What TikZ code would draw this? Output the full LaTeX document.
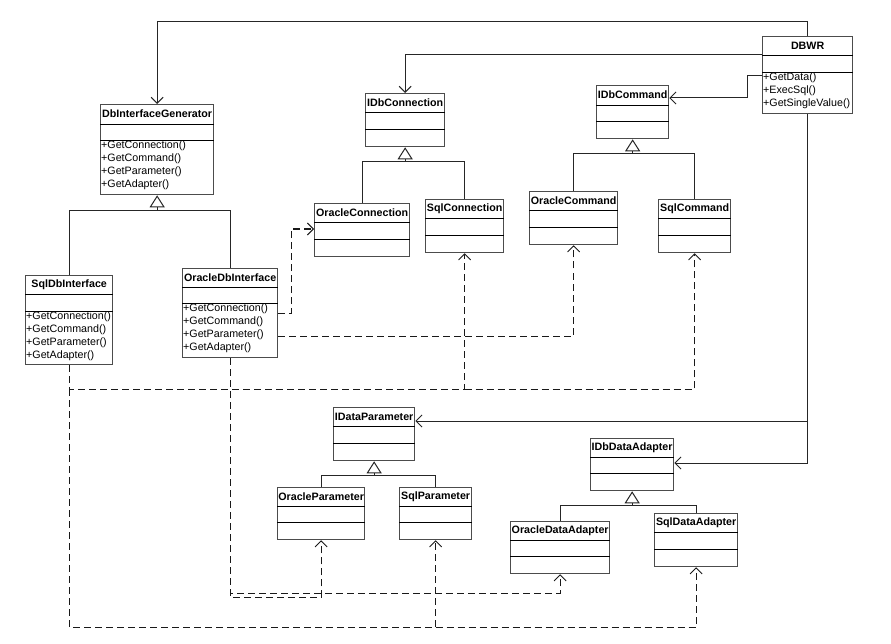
\documentclass[tikz,border=0pt]{standalone}
\usepackage{fontspec}
\setmainfont{Liberation Sans}
\usetikzlibrary{arrows.meta,calc}
\tikzset{
  clsbox/.style={draw=black!70, line width=1.3pt, inner sep=0pt, fill=white},
  sepline/.style={draw=black, line width=0.8pt},
  titletext/.style={font=\fontsize{10.7}{13}\selectfont\bfseries, inner sep=0pt},
  methtext/.style={font=\fontsize{10.7}{13}\selectfont, inner sep=1pt, align=left},
  conn/.style={draw=black!85, line width=1pt},
  assoc/.style={conn, -{Straight Barb[length=6pt,width=12pt]}},
  dep/.style={draw=black!90, line width=1.3pt, dash pattern=on 7pt off 4pt, -{Straight Barb[length=6pt,width=12pt,line width=0.9pt]}},
  inherit/.style={conn, -{Triangle[open,length=12pt,width=15pt,fill=white]}},
}
% #1 name, #2 x, #3 y, #4 width, #5 height, #6 first separator, #7 second separator, #8 title
\newcommand\umlcls[8]{%
  \node[clsbox, minimum width=#4pt, minimum height=#5pt, anchor=north west] (#1) at (#2,#3) {};
  \draw[sepline] ($(#1.north west)+(0,#6)$) -- ($(#1.north east)+(0,#6)$);
  \draw[sepline] ($(#1.north west)+(0,#7)$) -- ($(#1.north east)+(0,#7)$);
  \node[titletext] (#1-t) at ($(#1.north)+(0,#6/2)$) {#8};
}
\begin{document}
\begin{tikzpicture}[x=1pt,y=-1pt]
\useasboundingbox (0,0) rectangle (891,644);
\fill[white] (0,0) rectangle (891,644);

% classes
\umlcls{dbig}{100}{104}{113}{90}{20}{36}{DbInterfaceGenerator}
\umlcls{dbwr}{762}{36}{90}{77}{19}{36}{DBWR}
\umlcls{idbconn}{365}{93}{79}{53}{19}{36}{IDbConnection}
\umlcls{idbcmd}{596}{85}{72}{53}{20}{36}{IDbCommand}
\umlcls{oraconn}{314}{203}{95}{53}{19}{36}{OracleConnection}
\umlcls{sqlconn}{425}{199}{78}{53}{19}{36}{SqlConnection}
\umlcls{oracmd}{529}{191}{88}{53}{19}{36}{OracleCommand}
\umlcls{sqlcmd}{658}{199}{72}{53}{19}{36}{SqlCommand}
\umlcls{sqldbi}{25}{275}{87}{89}{19}{36}{SqlDbInterface}
\umlcls{oradbi}{182}{268}{95}{89}{19}{35}{OracleDbInterface}
\umlcls{idataparam}{333}{407}{81}{53}{19}{36}{IDataParameter}
\umlcls{oraparam}{277}{487}{87}{52}{19}{35}{OracleParameter}
\umlcls{sqlparam}{399}{487}{72}{52}{19}{35}{SqlParameter}
\umlcls{idbadapter}{590}{438}{83}{52}{19}{35}{IDbDataAdapter}
\umlcls{oradapter}{510}{521}{99}{52}{19}{35}{OracleDataAdapter}
\umlcls{sqladapter}{654}{513}{83}{53}{19}{36}{SqlDataAdapter}

% methods
\node[methtext, anchor=north west] (dbig-m) at ($(dbig.north west)+(0,36)$)
  {+GetConnection()\\+GetCommand()\\+GetParameter()\\+GetAdapter()};
\node[methtext, anchor=north west] (dbwr-m) at ($(dbwr.north west)+(0,36)$)
  {+GetData()\\+ExecSql()\\+GetSingleValue()};
\node[methtext, anchor=north west] (sqldbi-m) at ($(sqldbi.north west)+(0,36)$)
  {+GetConnection()\\+GetCommand()\\+GetParameter()\\+GetAdapter()};
\node[methtext, anchor=north west] (oradbi-m) at ($(oradbi.north west)+(0,35)$)
  {+GetConnection()\\+GetCommand()\\+GetParameter()\\+GetAdapter()};

% associations from DBWR
\draw[assoc] (dbwr.north) -- ++(0,-14) -| (dbig.north);
\draw[assoc] ($(dbwr.north west)+(0,19)$) -| (idbconn.north);
\draw[assoc] (dbwr.west) -- ++(-15,0) |- ($(idbcmd.north east)+(0,13)$);
\draw[assoc] (dbwr.south) |- ($(idataparam.north east)+(0,14)$);
\draw[assoc] (dbwr.south) |- ($(idbadapter.north east)+(0,25)$);

% generalisations
\coordinate (j1) at ($(dbig.south)+(0,15)$);
\draw[conn] (sqldbi.north) |- (j1) -| (oradbi.north);
\draw[inherit] (j1) -- (dbig.south);

\coordinate (j2) at ($(idbconn.south)+(0,14)$);
\draw[conn] (oraconn.north) |- (j2) -| (sqlconn.north);
\draw[inherit] (j2) -- (idbconn.south);

\coordinate (j3) at ($(idbcmd.south)+(0,14)$);
\draw[conn] (oracmd.north) |- (j3) -| (sqlcmd.north);
\draw[inherit] (j3) -- (idbcmd.south);

\coordinate (j4) at ($(idataparam.south)+(0,14)$);
\draw[conn] (oraparam.north) |- (j4) -| (sqlparam.north);
\draw[inherit] (j4) -- (idataparam.south);

\coordinate (j5) at ($(idbadapter.south)+(0,14)$);
\draw[conn] (oradapter.north) |- (j5) -| (sqladapter.north);
\draw[inherit] (j5) -- (idbadapter.south);

% dependencies of OracleDbInterface
\draw[dep] (oradbi.east) -- ++(13,0) |- ($(oraconn.north west)+(0,26)$);
\draw[dep] ($(oradbi.east)+(0,23)$) -| (oracmd.south);
\coordinate (busC) at ($(oradbi.south)+(0,235)$);
\draw[dep] (oradbi.south) -- (busC) -| (oradapter.south);
\draw[dep] (oradbi.south) -- ++(0,239) -| (oraparam.south);

% dependencies of SqlDbInterface
\coordinate (busA) at ($(sqldbi.south)+(0,24)$);
\coordinate (busB) at ($(sqldbi.south)+(0,262)$);
\draw[dep] (sqldbi.south) |- (sqlconn.south |- busA) -- (sqlconn.south);
\draw[dep] (sqlconn.south |- busA) -| (sqlcmd.south);
\draw[dep] (busA) -- (busB) -| (sqlparam.south);
\draw[dep] (sqlparam.south |- busB) -| (sqladapter.south);
\end{tikzpicture}
\end{document}
